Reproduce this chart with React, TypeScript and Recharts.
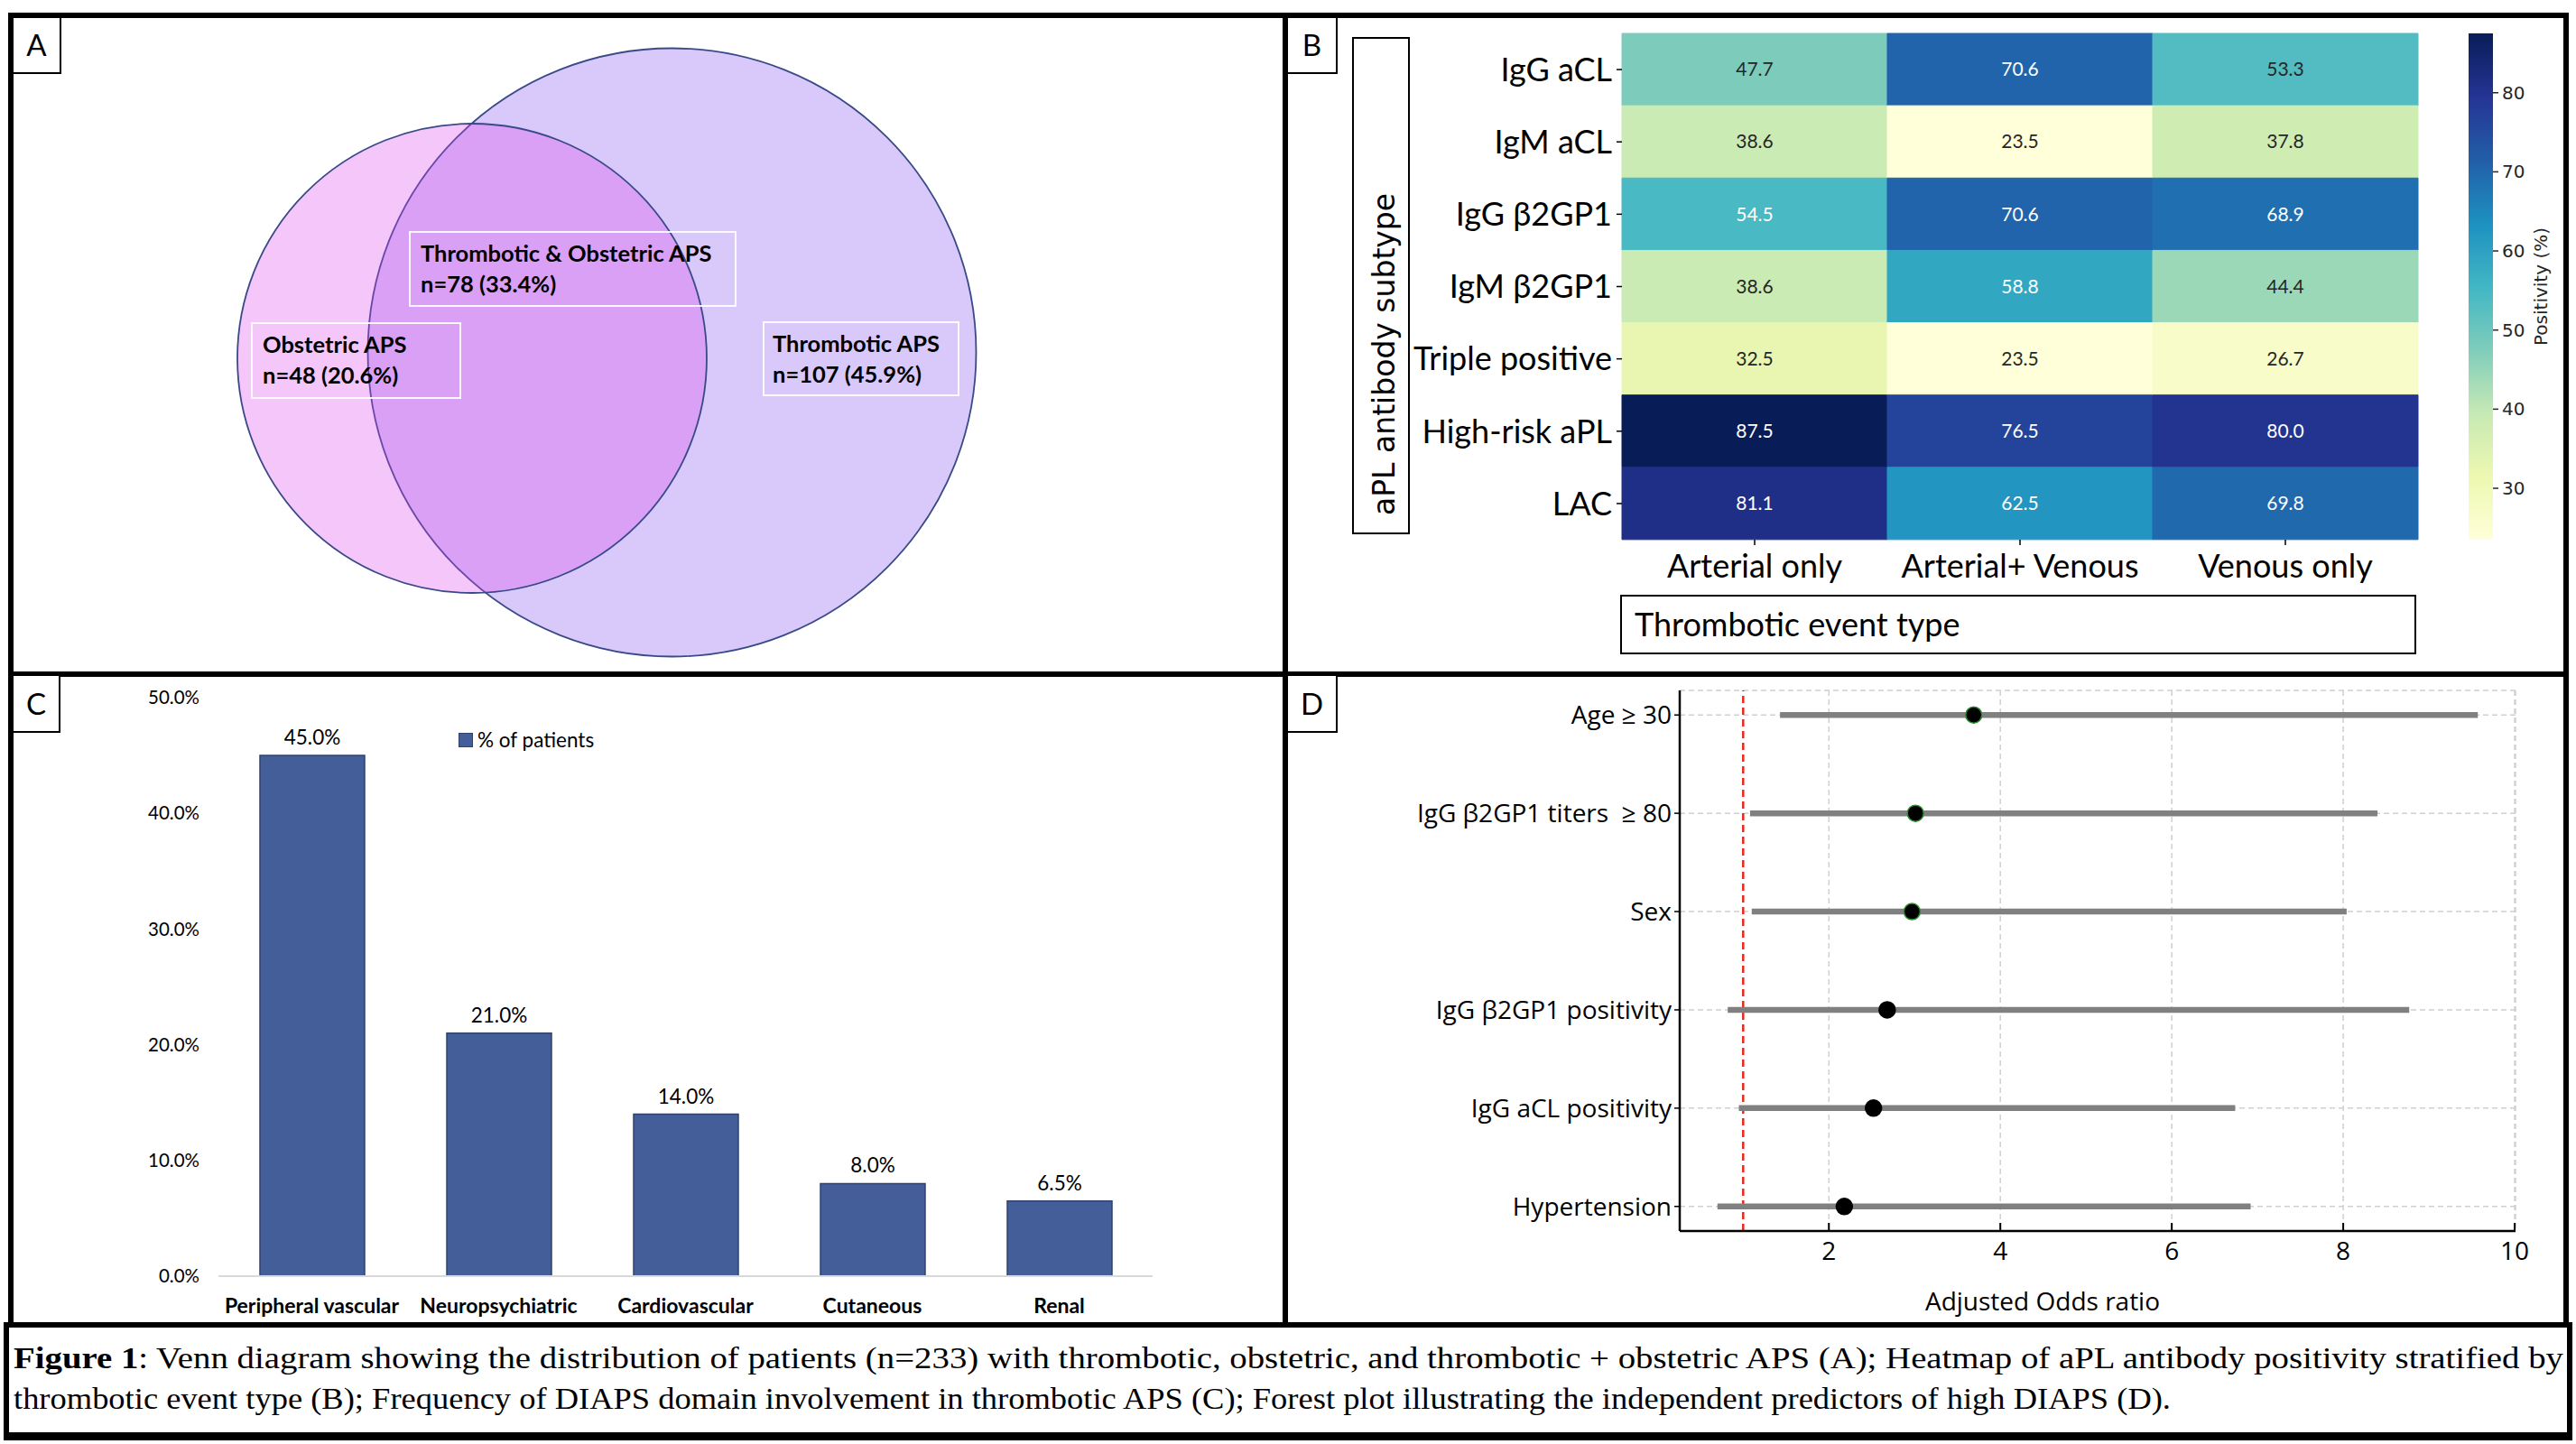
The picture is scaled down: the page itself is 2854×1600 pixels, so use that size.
import React from "react";
import {
  ScatterChart,
  Scatter,
  BarChart,
  Bar,
  XAxis,
  YAxis,
  Cell,
  LabelList,
  ReferenceArea,
  ReferenceLine,
  ErrorBar,
  CartesianGrid,
  Legend,
} from "recharts";

// ---------- A: Venn regions
const REGION_LABELS = ["Obstetric APS", "Thrombotic & Obstetric APS", "Thrombotic APS"];
const REGION_N = [48, 78, 107];
const REGION_PCT = [20.6, 33.4, 45.9];

// ---------- B: heatmap
const ANTIBODIES = ["IgG aCL", "IgM aCL", "IgG β2GP1", "IgM β2GP1", "Triple positive", "High-risk aPL", "LAC"];
const EVENT_TYPES = ["Arterial only", "Arterial+ Venous", "Venous only"];
const ARTERIAL_ONLY = [47.7, 38.6, 54.5, 38.6, 32.5, 87.5, 81.1];
const ARTERIAL_VENOUS = [70.6, 23.5, 70.6, 58.8, 23.5, 76.5, 62.5];
const VENOUS_ONLY = [53.3, 37.8, 68.9, 44.4, 26.7, 80.0, 69.8];
const COLORBAR_TICKS = [30, 40, 50, 60, 70, 80];

// ---------- C: DIAPS domains
const DOMAINS = ["Peripheral vascular", "Neuropsychiatric", "Cardiovascular", "Cutaneous", "Renal"];
const PCT_PATIENTS = [45.0, 21.0, 14.0, 8.0, 6.5];
const PCT_TICKS = [0, 10, 20, 30, 40, 50];
const SERIES_C = "% of patients";

// ---------- D: forest plot
const PREDICTORS = ["Age ≥ 30", "IgG β2GP1 titers \u00a0≥ 80", "Sex", "IgG β2GP1 positivity", "IgG aCL positivity", "Hypertension"];
const ODDS_RATIO = [3.69, 3.01, 2.97, 2.68, 2.52, 2.18];
const CI_LOW = [1.43, 1.08, 1.1, 0.82, 0.95, 0.7];
const CI_HIGH = [9.57, 8.4, 8.04, 8.77, 6.74, 6.92];
const OR_TICKS = [2, 4, 6, 8, 10];

const FONT_CAL = "Lato, 'Liberation Sans', sans-serif";
const FONT_MPL = "'DejaVu Sans', sans-serif";
const FONT_OS = "'Open Sans', sans-serif";
const FONT_SERIF = "'Liberation Serif', serif";

// venn layout, panel pixel units
const VENN_CIRCLES = [
  { cx: 729.5, cy: 370.5, r: 337, fill: "#D9C9FA", fillOpacity: 1 },
  { cx: 508, cy: 377, r: 260, fill: "rgb(218,65,238)", fillOpacity: 0.3 },
];
const VENN_BOXES = [
  { x: 264, y: 338, w: 231, h: 83, pad: 12 },
  { x: 439, y: 237, w: 361, h: 82, pad: 12 },
  { x: 831, y: 337, w: 216, h: 81, pad: 10 },
];

const vennRows = REGION_LABELS.map((name, i) => ({
  name,
  n: REGION_N[i],
  pct: REGION_PCT[i],
  x: VENN_BOXES[i].x,
  y: VENN_BOXES[i].y,
  w: VENN_BOXES[i].w,
  h: VENN_BOXES[i].h,
  pad: VENN_BOXES[i].pad,
}));

const heatRows = ANTIBODIES.map((name, i) => ({
  name,
  arterial: ARTERIAL_ONLY[i],
  both: ARTERIAL_VENOUS[i],
  venous: VENOUS_ONLY[i],
}));
const HEAT_KEYS = ["arterial", "both", "venous"];
const ALL_HEAT = [...ARTERIAL_ONLY, ...ARTERIAL_VENOUS, ...VENOUS_ONLY];
const V_MIN = Math.min(...ALL_HEAT);
const V_MAX = Math.max(...ALL_HEAT);

const domainRows = DOMAINS.map((name, i) => ({ name, pct: PCT_PATIENTS[i] }));

const forestRows = PREDICTORS.map((name, i) => ({
  name,
  row: i,
  or: ODDS_RATIO[i],
  ci: [ODDS_RATIO[i] - CI_LOW[i], CI_HIGH[i] - ODDS_RATIO[i]],
}));

// matplotlib YlGnBu
const YLGNBU = ["#ffffd9", "#edf8b1", "#c7e9b4", "#7fcdbb", "#41b6c4", "#1d91c0", "#225ea8", "#253494", "#081d58"];
const hexRgb = (h: string) => [1, 3, 5].map((k) => parseInt(h.slice(k, k + 2), 16));
function ylgnbuRgb(v: number) {
  const t = Math.max(0, Math.min(1, (v - V_MIN) / (V_MAX - V_MIN)));
  const p = t * (YLGNBU.length - 1);
  const i = Math.min(YLGNBU.length - 2, Math.floor(p));
  const f = p - i;
  const a = hexRgb(YLGNBU[i]);
  const b = hexRgb(YLGNBU[i + 1]);
  return a.map((c, k) => Math.round(c + (b[k] - c) * f));
}
const ylgnbu = (v: number) => `rgb(${ylgnbuRgb(v).join(",")})`;
function annotColor(v: number) {
  const lin = ylgnbuRgb(v).map((c) => {
    const s = c / 255;
    return s <= 0.03928 ? s / 12.92 : Math.pow((s + 0.055) / 1.055, 2.4);
  });
  const L = 0.2126 * lin[0] + 0.7152 * lin[1] + 0.0722 * lin[2];
  return L > 0.408 ? "#262626" : "#ffffff";
}

function VennPanel() {
  const renderRegion = (p: any) => {
    const d = p.payload;
    const x = p.cx;
    const y = p.cy;
    return (
      <g>
        <rect x={x} y={y} width={d.w} height={d.h} fill="none" stroke="#ffffff" strokeOpacity={0.9} strokeWidth={2} />
        <text x={x + d.pad} y={y + 33} fontFamily={FONT_CAL} fontWeight={700} fontSize={25.5} fill="#000">
          {d.name}
        </text>
        <text x={x + d.pad} y={y + 67} fontFamily={FONT_CAL} fontWeight={700} fontSize={25.5} fill="#000">
          {`n=${d.n} (${d.pct.toFixed(1)}%)`}
        </text>
      </g>
    );
  };
  return (
    <ScatterChart width={1406} height={724} margin={{ top: 0, right: 0, bottom: 0, left: 0 }}>
      <XAxis type="number" dataKey="x" domain={[0, 1406]} hide allowDataOverflow />
      <YAxis type="number" dataKey="y" domain={[0, 724]} reversed hide allowDataOverflow />
      {VENN_CIRCLES.map((c, i) => (
        <ReferenceArea
          key={i}
          x1={c.cx - c.r}
          x2={c.cx + c.r}
          y1={c.cy - c.r}
          y2={c.cy + c.r}
          ifOverflow="visible"
          shape={(p: any) => (
            <ellipse
              cx={p.x + p.width / 2}
              cy={p.y + p.height / 2}
              rx={Math.abs(p.width) / 2}
              ry={Math.abs(p.height) / 2}
              fill={c.fill}
              fillOpacity={c.fillOpacity}
              stroke="#3a4a88"
              strokeWidth={1.8}
            />
          )}
        />
      ))}
      <Scatter data={vennRows} shape={renderRegion} isAnimationActive={false} />
    </ScatterChart>
  );
}

function renderHeatLabel(props: any) {
  const vb = props.viewBox ?? props;
  const { x, y, width, height } = vb;
  const v = Number(props.value);
  return (
    <text
      x={x + width / 2}
      y={y + height / 2}
      dy="0.35em"
      textAnchor="middle"
      fontFamily={FONT_CAL}
      fontSize={21}
      fill={annotColor(v)}
    >
      {v.toFixed(1)}
    </text>
  );
}

function HeatmapPanel() {
  return (
    <BarChart
      width={1200}
      height={700}
      data={heatRows}
      layout="vertical"
      margin={{ top: 37, right: 61, bottom: 42, left: 20 }}
      barCategoryGap={0}
      barGap={0}
    >
      <XAxis
        type="number"
        domain={[0, 3]}
        ticks={[0.5, 1.5, 2.5]}
        tickFormatter={(v: number) => EVENT_TYPES[Math.floor(v)]}
        interval={0}
        height={60}
        axisLine={false}
        tickSize={6}
        tickMargin={10}
        tickLine={{ stroke: "#000", strokeWidth: 1.5 }}
        tick={{ fontFamily: FONT_CAL, fontSize: 36, fill: "#000" }}
      />
      <YAxis
        type="category"
        dataKey="name"
        width={237}
        interval={0}
        axisLine={false}
        tickSize={6}
        tickMargin={5}
        tickLine={{ stroke: "#000", strokeWidth: 1.5 }}
        tick={{ fontFamily: FONT_CAL, fontSize: 36, fill: "#000" }}
      />
      {HEAT_KEYS.map((k) => (
        <Bar
          key={k}
          dataKey={(r: any) => (typeof r[k] === "number" ? 1 : 0)}
          stackId="cells"
          isAnimationActive={false}
        >
          {heatRows.map((r: any, i) => (
            <Cell key={i} fill={ylgnbu(r[k])} stroke={ylgnbu(r[k])} strokeWidth={1} />
          ))}
          <LabelList dataKey={k} content={renderHeatLabel} />
        </Bar>
      ))}
    </BarChart>
  );
}

function ColorbarPanel() {
  const cbData = [{ name: "Positivity (%)", range: [V_MIN, V_MAX] }];
  return (
    <BarChart
      width={154}
      height={700}
      data={cbData}
      margin={{ top: 37, right: 0, bottom: 102, left: 35 }}
      barCategoryGap={0}
    >
      <defs>
        <linearGradient id="ylgnbuBar" x1="0" y1="1" x2="0" y2="0">
          {YLGNBU.map((c, i) => (
            <stop key={i} offset={`${(i / (YLGNBU.length - 1)) * 100}%`} stopColor={c} />
          ))}
        </linearGradient>
      </defs>
      <XAxis dataKey="name" hide />
      <YAxis
        orientation="right"
        type="number"
        domain={[V_MIN, V_MAX]}
        ticks={COLORBAR_TICKS}
        width={92}
        axisLine={false}
        tickSize={6}
        tickMargin={4}
        tickLine={{ stroke: "#262626", strokeWidth: 1.5 }}
        tick={{ fontFamily: FONT_MPL, fontSize: 20, fill: "#262626" }}
        label={{
          value: "Positivity (%)",
          angle: -90,
          position: "center",
          dx: 7,
          fontFamily: FONT_MPL,
          fontSize: 20,
          fill: "#262626",
        }}
      />
      <Bar dataKey="range" fill="url(#ylgnbuBar)" isAnimationActive={false} />
    </BarChart>
  );
}

function DomainBarPanel() {
  const legendContent = (p: any) => (
    <div style={{ display: "flex", alignItems: "center", fontFamily: FONT_CAL, fontSize: 22.5, color: "#000", whiteSpace: "nowrap" }}>
      {(p.payload || []).map((e: any) => (
        <React.Fragment key={e.value}>
          <span style={{ display: "inline-block", width: 14, height: 14, background: "#445E9A", border: "1px solid #2F426F", marginRight: 5 }} />
          <span>{e.value}</span>
        </React.Fragment>
      ))}
    </div>
  );
  return (
    <BarChart width={1406} height={715} data={domainRows} margin={{ top: 23, right: 144, bottom: 11, left: 0 }}>
      <XAxis
        dataKey="name"
        interval={0}
        height={40}
        axisLine={{ stroke: "#D9D9D9", strokeWidth: 2 }}
        tickLine={false}
        tickSize={0}
        tickMargin={25}
        tick={{ fontFamily: FONT_CAL, fontSize: 23, fontWeight: 700, fill: "#000" }}
      />
      <YAxis
        type="number"
        domain={[0, 50]}
        ticks={PCT_TICKS}
        interval={0}
        tickFormatter={(v: number) => `${v.toFixed(1)}%`}
        width={227}
        axisLine={false}
        tickLine={false}
        tickSize={0}
        tickMargin={21}
        tick={{ fontFamily: FONT_CAL, fontSize: 20.5, fill: "#000" }}
      />
      <Legend
        layout="horizontal"
        verticalAlign="middle"
        align="center"
        wrapperStyle={{ left: 493, top: 56, width: "auto", height: "auto" }}
        content={legendContent}
      />
      <Bar dataKey="pct" name={SERIES_C} fill="#445E9A" stroke="#2F426F" strokeWidth={1.5} barSize={116} isAnimationActive={false}>
        <LabelList
          dataKey="pct"
          position="top"
          offset={12}
          formatter={(v: any) => `${Number(v).toFixed(1)}%`}
          fontFamily={FONT_CAL}
          fontSize={22.5}
          fill="#000"
        />
      </Bar>
    </BarChart>
  );
}

function InwardTick(props: any) {
  const { x, y, payload } = props;
  const axisY = y - 12;
  return (
    <g>
      <line x1={x} x2={x} y1={axisY} y2={axisY - 9} stroke="#000" strokeWidth={2} />
      <text x={x} y={y} dy="0.71em" textAnchor="middle" fontFamily={FONT_OS} fontSize={28} fill="#000">
        {payload.value}
      </text>
    </g>
  );
}

function ForestPanel() {
  const renderDot = (p: any) => (
    <circle cx={p.cx} cy={p.cy} r={9} fill="#000" stroke={p.stroke} strokeWidth={1.5} />
  );
  return (
    <ScatterChart width={1413} height={715} margin={{ top: 15, right: 53, bottom: 6, left: 0 }}>
      <CartesianGrid strokeDasharray="6 4" stroke="#d0d0d0" strokeWidth={1.5} />
      <XAxis
        type="number"
        dataKey="or"
        domain={[0.26, 10.01]}
        allowDataOverflow
        ticks={OR_TICKS}
        interval={0}
        height={95}
        axisLine={{ stroke: "#000", strokeWidth: 2.5 }}
        tickLine={false}
        tickSize={0}
        tickMargin={12}
        tick={(p: any) => <InwardTick {...p} />}
        label={{
          value: "Adjusted Odds ratio",
          position: "insideBottom",
          offset: 7,
          dx: -61,
          fontFamily: FONT_OS,
          fontSize: 28,
          fill: "#000",
        }}
      />
      <YAxis
        type="number"
        dataKey="row"
        domain={[-0.25, 5.25]}
        allowDataOverflow
        reversed
        ticks={[0, 1, 2, 3, 4, 5]}
        interval={0}
        tickFormatter={(v: number) => PREDICTORS[v]}
        width={434}
        axisLine={{ stroke: "#000", strokeWidth: 2.5 }}
        tickSize={6}
        tickMargin={3}
        tickLine={{ stroke: "#000", strokeWidth: 1.5 }}
        tick={{ fontFamily: FONT_OS, fontSize: 28, fill: "#000" }}
      />
      <ReferenceLine x={1} stroke="#E8291C" strokeDasharray="8 5" strokeWidth={2.5} />
      <Scatter data={forestRows} shape={() => <g />} isAnimationActive={false}>
        <ErrorBar dataKey="ci" direction="x" width={0} stroke="#808080" strokeWidth={6.5} />
      </Scatter>
      <Scatter data={forestRows} shape={renderDot} isAnimationActive={false}>
        {forestRows.map((r, i) => (
          <Cell key={r.name} stroke={i < 3 ? "#2f8f2f" : "#000"} />
        ))}
      </Scatter>
    </ScatterChart>
  );
}

function Frame() {
  const black = "#000";
  const bars = [
    { x: 9, y: 14, w: 2837, h: 6 },
    { x: 9, y: 14, w: 6, h: 1457 },
    { x: 2840, y: 14, w: 6, h: 1457 },
    { x: 1421, y: 14, w: 6, h: 1457 },
    { x: 9, y: 744, w: 2837, h: 6 },
    { x: 4, y: 1465, w: 2846, h: 6 },
    { x: 4, y: 1465, w: 6, h: 131 },
    { x: 2844, y: 1465, w: 6, h: 131 },
    { x: 4, y: 1587, w: 2846, h: 9 },
  ];
  const tags = [
    { t: "A", x: 13, y: 18, w: 55, h: 64 },
    { t: "B", x: 1425, y: 18, w: 57, h: 64 },
    { t: "C", x: 13, y: 747, w: 54, h: 65 },
    { t: "D", x: 1425, y: 747, w: 57, h: 65 },
  ];
  return (
    <svg width={2854} height={1600} style={{ position: "absolute", left: 0, top: 0, pointerEvents: "none" }}>
      {bars.map((b, i) => (
        <rect key={i} x={b.x} y={b.y} width={b.w} height={b.h} fill={black} />
      ))}
      {tags.map((t) => (
        <g key={t.t}>
          <rect x={t.x + 1} y={t.y + 1} width={t.w - 2} height={t.h - 2} fill="#fff" stroke={black} strokeWidth={2} />
          <text x={t.x + t.w / 2} y={t.y + t.h / 2 + 12} textAnchor="middle" fontFamily={FONT_CAL} fontSize={33} fill={black}>
            {t.t}
          </text>
        </g>
      ))}
      {/* B axis title boxes */}
      <rect x={1499} y={42} width={62} height={549} fill="none" stroke={black} strokeWidth={2} />
      <text transform="translate(1545,571) rotate(-90)" fontFamily={FONT_MPL} fontSize={33} fill={black}>
        aPL antibody subtype
      </text>
      <rect x={1796} y={660} width={880} height={64} fill="none" stroke={black} strokeWidth={2} />
      <text x={1811} y={705} fontFamily={FONT_CAL} fontSize={36} fill={black}>
        Thrombotic event type
      </text>
      {/* caption */}
      <text x={15} y={1516} textLength={2825} lengthAdjust="spacingAndGlyphs" fontFamily={FONT_SERIF} fontSize={34} fill={black}>
        <tspan fontWeight="bold">Figure 1</tspan>: Venn diagram showing the distribution of patients (n=233) with thrombotic, obstetric, and thrombotic + obstetric APS (A); Heatmap of aPL antibody positivity stratified by
      </text>
      <text x={15} y={1561} textLength={2390} lengthAdjust="spacingAndGlyphs" fontFamily={FONT_SERIF} fontSize={34} fill={black}>
        thrombotic event type (B); Frequency of DIAPS domain involvement in thrombotic APS (C); Forest plot illustrating the independent predictors of high DIAPS (D).
      </text>
    </svg>
  );
}

export default function App() {
  return (
    <div style={{ position: "absolute", left: 0, top: 0, width: 2854, height: 1600, background: "#fff", overflow: "hidden" }}>
      <div style={{ position: "absolute", left: 15, top: 20 }}>
        <VennPanel />
      </div>
      <div style={{ position: "absolute", left: 1540, top: 0 }}>
        <HeatmapPanel />
      </div>
      <div style={{ position: "absolute", left: 2700, top: 0 }}>
        <ColorbarPanel />
      </div>
      <div style={{ position: "absolute", left: 15, top: 750 }}>
        <DomainBarPanel />
      </div>
      <div style={{ position: "absolute", left: 1427, top: 750 }}>
        <ForestPanel />
      </div>
      <Frame />
    </div>
  );
}
